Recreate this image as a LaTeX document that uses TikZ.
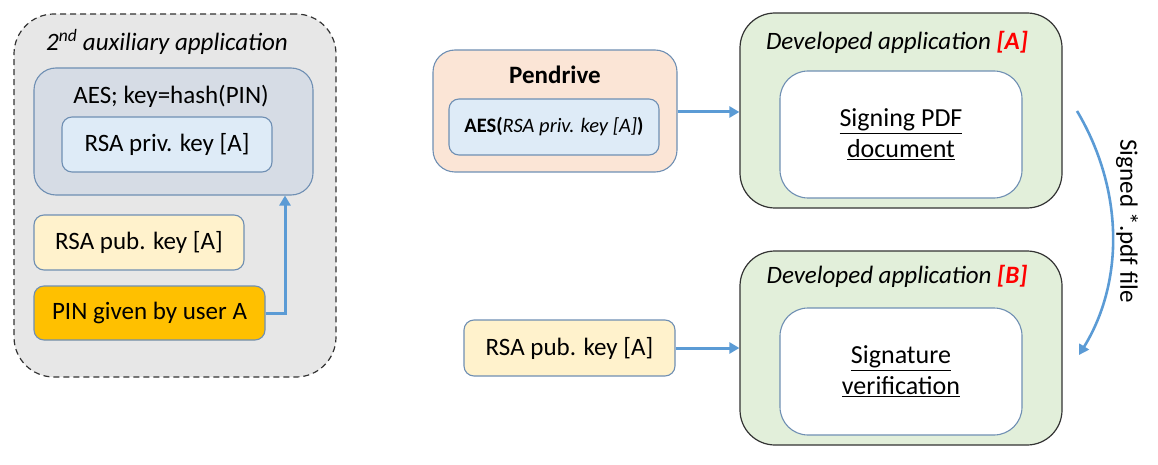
\documentclass[tikz,border=0pt]{standalone}
\usepackage{fontspec}
\setmainfont{Carlito}
\usetikzlibrary{arrows.meta}
\definecolor{outerfill}{HTML}{E7E7E7}
\definecolor{aesfill}{HTML}{D6DCE5}
\definecolor{privfill}{HTML}{DEEBF7}
\definecolor{pubfill}{HTML}{FFF2CC}
\definecolor{pinfill}{HTML}{FFC000}
\definecolor{penfill}{HTML}{FBE5D6}
\definecolor{devfill}{HTML}{E2EFDA}
\definecolor{boxline}{HTML}{6F8FB3}
\definecolor{arrowblue}{HTML}{5B9BD5}
\definecolor{redA}{HTML}{FF0000}
\tikzset{
  base/.style={draw=boxline, line width=1.1pt, inner sep=0pt, align=center, font=\fontsize{25}{30}\selectfont},
  smallbox/.style={base, rounded corners=10pt},
  bigbox/.style={base, rounded corners=22pt},
  devbox/.style={draw=black!80, line width=1.2pt, rounded corners=35pt, fill=devfill, inner sep=0pt},
  whitebox/.style={base, fill=white, rounded corners=28pt},
  conn/.style={draw=arrowblue, line width=3pt, -{Triangle[length=10pt,width=11pt]}},
  lbl/.style={inner sep=0pt, font=\fontsize{25}{30}\selectfont},
}
\begin{document}
\begin{tikzpicture}[x=1pt,y=-1pt]
\useasboundingbox (0,0) rectangle (1158,465);
% left auxiliary application
\node[draw=black!80, dash pattern=on 6pt off 4pt, line width=1.2pt, rounded corners=40pt, fill=outerfill, minimum width=322pt, minimum height=363pt, inner sep=0pt] (aux) at (175,195.5) {};
\node[lbl, font=\fontsize{25}{30}\selectfont\itshape] (auxt) at (167,42) {2\textsuperscript{nd} auxiliary application};
\node[bigbox, fill=aesfill, minimum width=279pt, minimum height=127pt] (aes) at (173.5,131.5) {};
\node[lbl] (aest) at (171,96) {AES; key=hash(PIN)};
\node[smallbox, fill=privfill, minimum width=210pt, minimum height=55pt] (priv) at (167,144.5) {RSA priv. key [A]};
\node[smallbox, fill=pubfill, minimum width=210pt, minimum height=55pt] (pub1) at (139,242.5) {RSA pub. key [A]};
\node[smallbox, fill=pinfill, minimum width=231pt, minimum height=54pt] (pin) at (149.5,313) {PIN given by user A};
\draw[conn] (pin.east) -| (aes.south -| 285,0);
% pendrive
\node[bigbox, fill=penfill, minimum width=244pt, minimum height=122pt] (pen) at (555,111) {};
\node[lbl, font=\fontsize{25}{30}\selectfont\bfseries] (pent) at (555,75) {Pendrive};
\node[smallbox, fill=privfill, minimum width=210pt, minimum height=56pt, font=\fontsize{20.5}{24}\selectfont] (penk) at (554,127) {\textbf{AES(}\textit{RSA priv. key [A]}\textbf{)}};
% developed application A
\node[devbox, minimum width=322pt, minimum height=195pt] (devA) at (901,110.5) {};
\node[lbl, font=\fontsize{25}{30}\selectfont\itshape] (devAt) at (897,42) {Developed application \textcolor{redA}{\textbf{[A]}}};
\node[whitebox, minimum width=242pt, minimum height=127pt, font=\fontsize{26}{31}\selectfont] (sign) at (901,134.5) {\underline{Signing PDF}\\\underline{document}};
% developed application B
\node[devbox, minimum width=322pt, minimum height=194pt] (devB) at (901,348) {};
\node[lbl, font=\fontsize{25}{30}\selectfont\itshape] (devBt) at (897,276) {Developed application \textcolor{redA}{\textbf{[B]}}};
\node[whitebox, minimum width=242pt, minimum height=127pt, font=\fontsize{26}{31}\selectfont] (verif) at (901,371.5) {\underline{Signature}\\\underline{verification}};
% public key
\node[smallbox, fill=pubfill, minimum width=211pt, minimum height=56pt] (pub2) at (569.5,348) {RSA pub. key [A]};
% connectors
\draw[conn] (pen.east |- 0,112) -- (devA.west |- 0,112);
\draw[conn] (pub2.east) -- (devB.west |- pub2.east);
\coordinate (cs) at (1077,111);
\coordinate (ce) at (1079,355);
\draw[conn, line width=2.6pt] (cs) .. controls (1124,190) and (1124,282) .. (ce);
\node[lbl, rotate=-90] (sigl) at (1127,221) {Signed *.pdf file};
\end{tikzpicture}
\end{document}
